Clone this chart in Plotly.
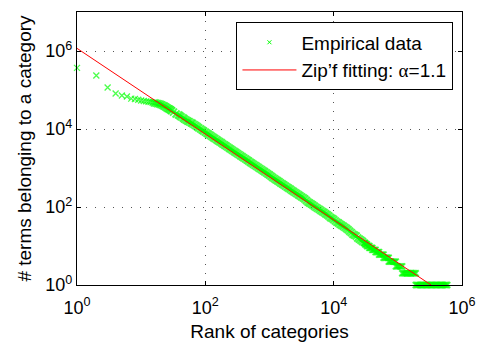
import numpy as np
import plotly.graph_objects as go

# ---- Data ----
# Head of the ranking (individual ranks)
head_ranks = [1, 2, 3, 4, 5, 6, 7, 8, 9, 10, 11, 12, 13, 14, 15, 16, 17, 18, 19, 20,
              21, 22, 23, 24, 25, 26, 27, 28, 29, 30, 32]
head_counts = [370000, 235000, 116000, 81000, 72000, 68000, 60000, 59000, 56000, 54000,
               52000, 51000, 50000, 49000, 48000, 47000, 46000, 45000, 44000, 43000,
               41500, 40000, 38500, 37000, 35500, 34000, 33000, 32000, 30500, 29000, 27000]

# Body of the ranking (sampled ranks)
body_ranks = [35, 38, 40, 42, 45, 47, 50, 53, 56, 60, 63, 67, 71, 75, 79, 84, 89, 94,
              100, 106, 112, 119, 126, 133, 141, 150, 158, 168, 178, 188, 200, 211, 224,
              237, 251, 266, 282, 299, 316, 335, 355, 376, 398, 422, 447, 473, 501, 531,
              562, 596, 631, 668, 708, 750, 794, 841, 891, 944, 1000, 1059, 1122, 1189,
              1259, 1334, 1413, 1496, 1585, 1679, 1778, 1884, 1995, 2113, 2239, 2371,
              2512, 2661, 2818, 2985, 3162, 3350, 3548, 3758, 3981, 4217, 4467, 4732,
              5012, 5309, 5623, 5957, 6310, 6683, 7079, 7499, 7943, 8414, 8913, 9441,
              10000, 10593, 11220, 11885, 12589, 13335, 14125, 14962, 15849, 16788,
              17783, 18836, 19953, 21135, 22387, 23714, 25119, 26607, 28184]
body_counts = [24300, 23000, 21900, 20500, 19300, 18100, 17000, 16100, 15300, 14500,
               13800, 12960, 12200, 11420, 10700, 10060, 9440, 8860, 8320, 7810, 7330,
               6880, 6460, 6060, 5690, 5340, 5010, 4700, 4420, 4145, 3890, 3650, 3430,
               3220, 3020, 2835, 2660, 2500, 2340, 2200, 2070, 1940, 1820, 1710, 1600,
               1505, 1410, 1326, 1240, 1168, 1100, 1030, 966, 907, 851, 799, 750, 704,
               661, 613, 569, 534, 501, 470, 442, 414, 389, 365, 343, 322, 302, 284, 266,
               250, 234, 220, 207, 194, 182, 171, 160, 147, 135, 127, 119, 112, 105, 98,
               92, 87, 81, 76, 72, 67, 63, 59, 54, 51, 48, 44, 41, 39, 36, 34, 32, 30,
               28, 26, 24, 22, 20, 19, 18, 16, 15, 14, 13]

# Tail of the ranking: runs of equal counts (count, first rank, last rank)
tail_counts = [12, 11, 10, 9, 8, 7, 6, 5, 4, 3, 2, 1]
tail_first = [29500, 31000, 33000, 36000, 40000, 45000, 51000, 60000, 72000, 93000, 117000, 190000]
tail_last = [31000, 33000, 36000, 40000, 45000, 51000, 60000, 72000, 93000, 117000, 190000, 590000]

# Zipf fit (alpha = 1.1): end points of the straight log-log line
zipf_x = [1, 330000]
zipf_y = [1.17e6, 1.0]

# ---- Build empirical series ----
emp_x, emp_y, msize, mwidth = [], [], [], []
for r, c in zip(head_ranks, head_counts):
    emp_x.append(r); emp_y.append(c)
    msize.append(6 if r < 16 else 7); mwidth.append(1.3 if r < 16 else 1.8)
for r, c in zip(body_ranks, body_counts):
    emp_x.append(r); emp_y.append(c); msize.append(7); mwidth.append(2.0)
for c, a, b in zip(tail_counts, tail_first, tail_last):
    n = max(2, int(np.ceil(np.log10(b / a) / 0.02)) + 1)
    rr = np.geomspace(a, b, n)
    emp_x += list(rr)
    emp_y += [c] * n
    msize += [6] * n
    mwidth += [1.8] * n

FONT = "Liberation Sans, Arial, Helvetica, sans-serif"
GREEN = "#00ff00"

fig = go.Figure()
fig.add_trace(go.Scatter(
    x=emp_x, y=emp_y, mode="markers", name="Empirical data", showlegend=False,
    legendgroup="emp",
    marker=dict(symbol="x-thin", size=msize, color=GREEN,
                line=dict(color=GREEN, width=mwidth)),
    cliponaxis=False,
))
# legend entry for the empirical data (small marker, as in the reference legend)
fig.add_trace(go.Scatter(
    x=[None], y=[None], mode="markers", name="Empirical data", legendgroup="emp",
    marker=dict(symbol="x-thin", size=4, color=GREEN, line=dict(color=GREEN, width=1)),
))
fig.add_trace(go.Scatter(
    x=zipf_x, y=zipf_y, mode="lines",
    name="Zip’f fitting: <span style=\"font-family:'Liberation Serif', serif\">α</span>=1.1",
    line=dict(color="#ff0000", width=1),
))

tickvals = [1, 1e2, 1e4, 1e6]
ticktext = ["10<sup>0</sup>", "10<sup>2</sup>", "10<sup>4</sup>", "10<sup>6</sup>"]

axis_common = dict(
    type="log", showline=True, linecolor="black", linewidth=1.3, mirror="allticks",
    ticks="inside", ticklen=4, tickcolor="black", tickwidth=1,
    showgrid=True, gridcolor="#555555", gridwidth=1, griddash="1px,8px",
    zeroline=False, tickvals=tickvals, ticktext=ticktext, automargin=False,
    tickfont=dict(family=FONT, size=18, color="black"),
)

fig.update_xaxes(**axis_common, range=[0, 6], ticklabelstandoff=6,
                 title=dict(text="Rank of categories",
                            font=dict(family=FONT, size=19, color="black"), standoff=8))
fig.update_yaxes(**axis_common, range=[0, 7],
                 title=dict(text="# terms belonging to a category",
                            font=dict(family=FONT, size=19, color="black"), standoff=8))

fig.update_layout(
    width=483, height=342,
    margin=dict(l=77, r=21, t=12, b=57),
    paper_bgcolor="white", plot_bgcolor="white",
    showlegend=True,
    legend=dict(x=0.977, xanchor="right", y=0.963, yanchor="top",
                bgcolor="white", bordercolor="black", borderwidth=1.3,
                font=dict(family=FONT, size=19, color="black"),
                itemwidth=54, tracegroupgap=0),
)

fig.write_html("out.html")
